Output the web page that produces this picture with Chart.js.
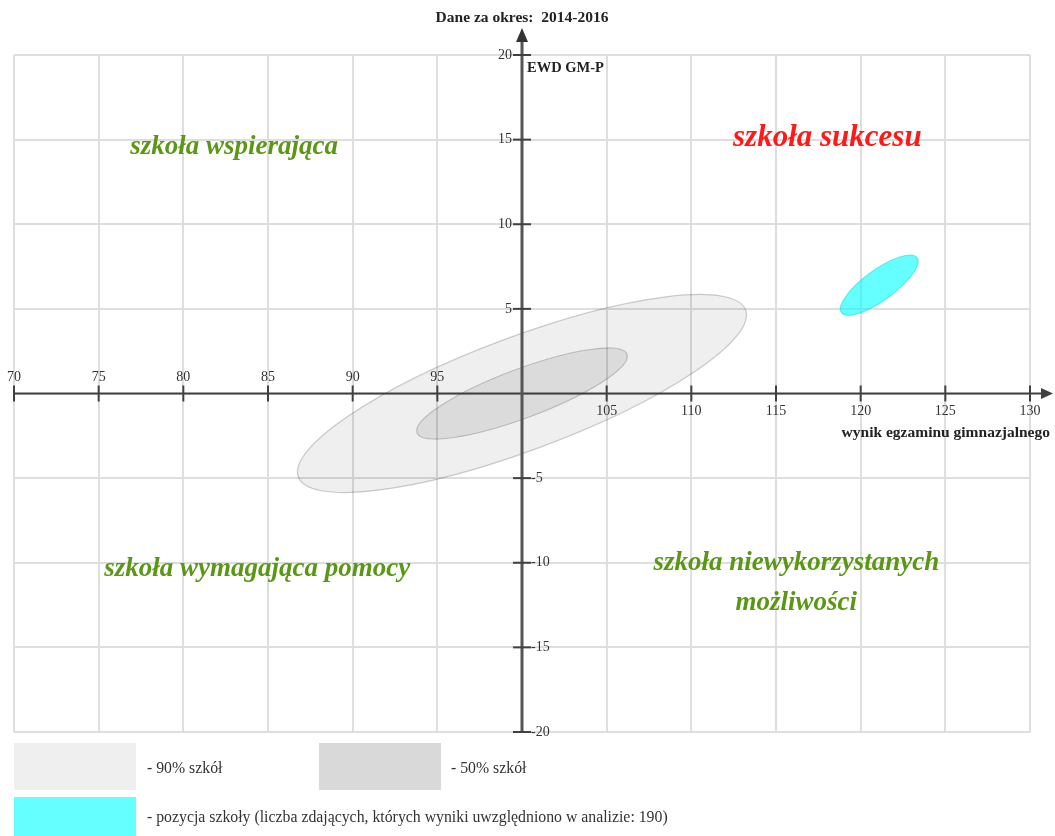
<!DOCTYPE html>
<html><head><meta charset="utf-8">
<script src="https://cdn.jsdelivr.net/npm/chart.js@4.4.1/dist/chart.umd.min.js"></script>
<style>html,body{margin:0;padding:0;background:#fff;}#wrap{width:1055px;height:836px;}</style>
</head><body><div id="wrap"><canvas id="c" width="1055" height="836"></canvas></div>
<script>
// ---- data ----
const titleText = 'Dane za okres:  2014-2016';
const xAxisLabel = 'wynik egzaminu gimnazjalnego';
const yAxisLabel = 'EWD GM-P';
const xTickValues = [70, 75, 80, 85, 90, 95, 100, 105, 110, 115, 120, 125, 130];
const yTickValues = [-20, -15, -10, -5, 0, 5, 10, 15, 20];
const ellipseLabels = ['- 90% szkół', '- 50% szkół', '- pozycja szkoły (liczba zdających, których wyniki uwzględniono w analizie: 190)'];
const ellipseCenterX = [100, 100, 121.1];
const ellipseCenterY = [0, 0, 6.4];
const ellipseSemiMajor = [14.1, 6.62, 2.76];
const ellipseSemiMinor = [3.35, 1.45, 0.9];
const ellipseAngleDeg = [20.5, 20.5, 36];
const quadrantTexts = ['szkoła wspierająca', 'szkoła sukcesu', 'szkoła wymagająca pomocy', 'szkoła niewykorzystanych', 'możliwości'];
const quadrantX = [83, 118.03, 84.37, 116.2, 116.2];
const quadrantY = [14.55, 15.09, -10.37, -10.01, -12.37];

// ---- styles ----
const ellipseFill = ['rgba(0,0,0,0.063)', 'rgba(0,0,0,0.085)', 'rgba(0,255,255,0.6)'];
const ellipseStroke = ['rgba(0,0,0,0.2)', 'rgba(0,0,0,0.2)', 'rgba(0,220,220,0.5)'];
const legendSwatch = ['#efefef', '#d9d9d9', '#66ffff'];
const quadrantColor = ['#5a9714', '#ff1a1a', '#5a9714', '#5a9714', '#5a9714'];
const quadrantFont = ['italic bold 27px "Liberation Serif"', 'italic bold 31px "Liberation Serif"', 'italic bold 27px "Liberation Serif"', 'italic bold 27px "Liberation Serif"', 'italic bold 27px "Liberation Serif"'];
const axisColor = '#404040';
const textColor = '#333';

const datasets = ellipseLabels.map((lab, i) => ({
  label: lab,
  data: [{x: ellipseCenterX[i], y: ellipseCenterY[i]}],
  semiMajor: ellipseSemiMajor[i],
  semiMinor: ellipseSemiMinor[i],
  angle: ellipseAngleDeg[i],
  backgroundColor: ellipseFill[i],
  borderColor: ellipseStroke[i],
  borderWidth: 1.2,
  pointRadius: 0,
  pointHoverRadius: 0
}));

const ellipsePlugin = {
  id: 'ellipses',
  beforeDatasetsDraw(chart) {
    const {ctx, scales: {x, y}} = chart;
    chart.data.datasets.forEach((ds, i) => {
      const pt = chart.getDatasetMeta(i).data[0];
      const cx = pt.x, cy = pt.y;
      const th = ds.angle * Math.PI / 180;
      const d = ds.data[0];
      const ax = x.getPixelForValue(d.x + ds.semiMajor * Math.cos(th)) - cx;
      const ay = y.getPixelForValue(d.y + ds.semiMajor * Math.sin(th)) - cy;
      const bx = x.getPixelForValue(d.x - ds.semiMinor * Math.sin(th)) - cx;
      const by = y.getPixelForValue(d.y + ds.semiMinor * Math.cos(th)) - cy;
      ctx.save();
      ctx.beginPath();
      ctx.ellipse(cx, cy, Math.hypot(ax, ay), Math.hypot(bx, by), Math.atan2(ay, ax), 0, Math.PI * 2);
      ctx.fillStyle = ds.backgroundColor;
      ctx.fill();
      ctx.strokeStyle = ds.borderColor;
      ctx.lineWidth = ds.borderWidth;
      ctx.stroke();
      ctx.restore();
    });
  }
};

const axesPlugin = {
  id: 'crossAxes',
  afterDatasetsDraw(chart) {
    const {ctx, chartArea: ca, scales: {x, y}} = chart;
    const x0 = x.getPixelForValue(100);
    const y0 = y.getPixelForValue(0);
    ctx.save();
    ctx.strokeStyle = axisColor;
    ctx.fillStyle = axisColor;
    // x axis
    ctx.lineWidth = 2;
    ctx.beginPath(); ctx.moveTo(ca.left, y0); ctx.lineTo(1044, y0); ctx.stroke();
    ctx.beginPath(); ctx.moveTo(1053, y0); ctx.lineTo(1041, y0 - 5.5); ctx.lineTo(1041, y0 + 5.5); ctx.closePath(); ctx.fill();
    // y axis
    ctx.strokeStyle = '#555';
    ctx.lineWidth = 3;
    ctx.beginPath(); ctx.moveTo(x0, ca.bottom); ctx.lineTo(x0, 38); ctx.stroke();
    ctx.fillStyle = '#333';
    ctx.beginPath(); ctx.moveTo(x0, 28); ctx.lineTo(x0 - 6, 42); ctx.lineTo(x0 + 6, 42); ctx.closePath(); ctx.fill();
    // tick marks
    ctx.strokeStyle = axisColor;
    ctx.lineWidth = 2;
    xTickValues.forEach(v => {
      if (v === 100) return;
      const px = x.getPixelForValue(v);
      ctx.beginPath(); ctx.moveTo(px, y0 - 8); ctx.lineTo(px, y0 + 8); ctx.stroke();
    });
    yTickValues.forEach(v => {
      if (v === 0) return;
      const py = y.getPixelForValue(v);
      ctx.beginPath(); ctx.moveTo(x0 - 9, py); ctx.lineTo(x0 + 9, py); ctx.stroke();
    });
    // tick labels
    ctx.fillStyle = textColor;
    ctx.font = '14px "Liberation Serif"';
    ctx.textBaseline = 'middle';
    ctx.textAlign = 'center';
    xTickValues.forEach(v => {
      if (v === 100) return;
      const px = x.getPixelForValue(v);
      ctx.fillText(String(v), px, v < 100 ? y0 - 16 : y0 + 18);
    });
    yTickValues.forEach(v => {
      if (v === 0) return;
      const py = y.getPixelForValue(v);
      if (v > 0) { ctx.textAlign = 'right'; ctx.fillText(String(v), x0 - 10, py); }
      else { ctx.textAlign = 'left'; ctx.fillText(String(v), x0 + 9, py); }
    });
    // axis titles
    ctx.fillStyle = '#222';
    ctx.font = 'bold 14.5px "Liberation Serif"';
    ctx.textAlign = 'left';
    ctx.fillText(yAxisLabel, x0 + 5, 68);
    ctx.font = 'bold 15.5px "Liberation Serif"';
    ctx.textAlign = 'right';
    ctx.fillText(xAxisLabel, 1050, y0 + 39);
    // quadrant labels
    ctx.textAlign = 'center';
    quadrantTexts.forEach((t, i) => {
      ctx.font = quadrantFont[i];
      ctx.fillStyle = quadrantColor[i];
      ctx.fillText(t, x.getPixelForValue(quadrantX[i]), y.getPixelForValue(quadrantY[i]));
    });
    ctx.restore();
  },
  afterDraw(chart) {
    const {ctx} = chart;
    ctx.save();
    const boxes = [[14, 743, 122, 47], [319, 743, 122, 47], [14, 797, 122, 39]];
    const texts = [[147, 769], [451, 769], [147, 818]];
    ctx.font = '15.8px "Liberation Serif"';
    ctx.textBaseline = 'middle';
    ctx.textAlign = 'left';
    chart.data.datasets.forEach((ds, i) => {
      ctx.fillStyle = legendSwatch[i];
      ctx.fillRect(...boxes[i]);
      ctx.fillStyle = textColor;
      ctx.fillText(ds.label, texts[i][0], texts[i][1]);
    });
    ctx.restore();
  }
};

new Chart(document.getElementById('c'), {
  type: 'scatter',
  data: {datasets},
  options: {
    responsive: false,
    animation: false,
    devicePixelRatio: 1,
    layout: {padding: {left: 14, right: 25, top: 0, bottom: 104}},
    plugins: {
      legend: {display: false},
      tooltip: {enabled: false},
      title: {
        display: true,
        text: titleText,
        color: '#222',
        font: {family: 'Liberation Serif', size: 15.5, weight: 'bold'},
        padding: {top: 9, bottom: 27.4}
      }
    },
    scales: {
      x: {
        type: 'linear', min: 70, max: 130, position: {y: 0},
        ticks: {stepSize: 5, display: false},
        grid: {color: '#dedede', lineWidth: 2, drawTicks: false},
        border: {display: false}
      },
      y: {
        type: 'linear', min: -20, max: 20, position: {x: 100},
        ticks: {stepSize: 5, display: false},
        grid: {color: '#dedede', lineWidth: 2, drawTicks: false},
        border: {display: false}
      }
    }
  },
  plugins: [ellipsePlugin, axesPlugin]
});
</script></body></html>
